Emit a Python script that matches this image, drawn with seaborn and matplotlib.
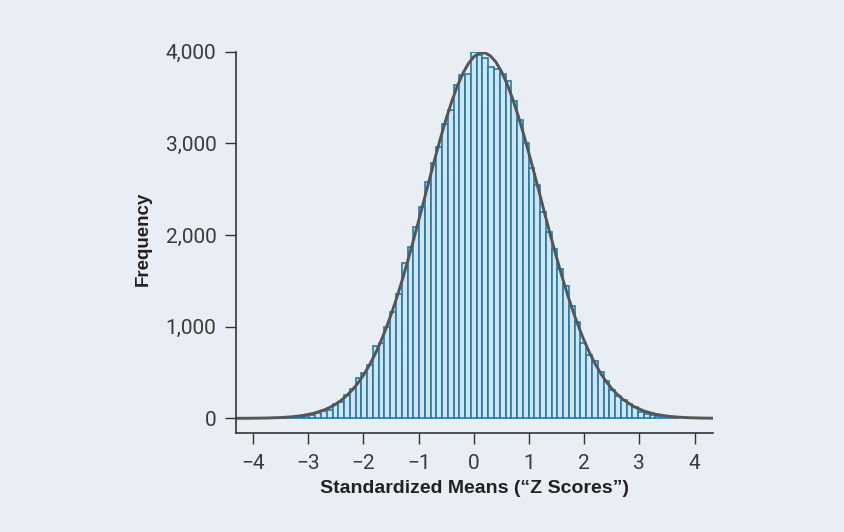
import numpy as np
import pandas as pd
import matplotlib
matplotlib.use("Agg")
import matplotlib.pyplot as plt
import seaborn as sns

# ---------------- data ----------------
bin_width = 0.1045                      # width of one histogram bin (z units)
bin_index = list(range(-33, 36))        # bin number; bin 0 is centred on z = 0
counts = [2, 4, 7, 12, 20, 33, 55, 76, 91, 156,
          176, 252, 316, 436, 491, 581, 788, 818, 999, 1163,
          1356, 1690, 1865, 2090, 2300, 2580, 2785, 2955, 3208, 3362,
          3640, 3750, 3760,
          3995,
          3958, 3935, 3835, 3810, 3755, 3680, 3460, 3255, 3000, 2733,
          2544, 2253, 2035, 1843, 1625, 1443, 1225, 1050, 818, 686,
          620, 500, 405, 305, 240, 200, 155, 127, 72, 51,
          34, 20, 9, 4, 2]

# fitted normal curve
curve_z = [-4.5, -4.3, -4.1, -3.9, -3.7, -3.5, -3.3, -3.1, -2.9, -2.7,
           -2.6, -2.5, -2.4, -2.3, -2.2, -2.1, -2.0, -1.9, -1.8, -1.7,
           -1.6, -1.5, -1.4, -1.3, -1.2, -1.1, -1.0, -0.9, -0.8, -0.7,
           -0.6, -0.5, -0.4, -0.3, -0.2, -0.1, 0.0, 0.1, 0.2, 0.3,
           0.4, 0.5, 0.6, 0.7, 0.8, 0.9, 1.0, 1.1, 1.2, 1.3,
           1.4, 1.5, 1.6, 1.7, 1.8, 1.9, 2.0, 2.1, 2.2, 2.3,
           2.4, 2.5, 2.6, 2.7, 2.9, 3.1, 3.3, 3.5, 3.7, 3.9,
           4.1, 4.3, 4.5]
curve_freq = [0.2, 0.4, 1.0, 2.1, 4.4, 8.6, 16.6, 30.7, 54.9, 94.3,
              122, 156, 198, 250, 312, 385, 471, 572, 687, 818,
              966, 1130, 1310, 1503, 1711, 1929, 2155, 2385, 2616, 2844,
              3063, 3269, 3456, 3622, 3760, 3868, 3944, 3983, 3987, 3954,
              3886, 3784, 3651, 3491, 3308, 3105, 2888, 2662, 2432, 2200,
              1973, 1754, 1544, 1347, 1164, 998, 847, 712, 594, 490,
              401, 325, 261, 208, 128, 76, 43.7, 24.1, 12.9, 6.6,
              3.3, 1.6, 0.7]

x_ticks = [-4, -3, -2, -1, 0, 1, 2, 3, 4]
x_tick_labels = ["\u22124", "\u22123", "\u22122", "\u22121", "0", "1", "2", "3", "4"]
y_ticks = [0, 1000, 2000, 3000, 4000]
y_tick_labels = ["0", "1,000", "2,000", "3,000", "4,000"]
x_label = "Standardized Means (\u201cZ Scores\u201d)"
y_label = "Frequency"

# ---------------- style ----------------
BG = "#e9eef5"
BAR_FACE = "#d4e4ef"
BAR_EDGE = "#1a7db2"
CURVE = "#555555"
INK = "#333333"

sns.set_theme(style="ticks")
plt.rcParams["font.family"] = ["Roboto", "DejaVu Sans"]

bin_centers = np.array(bin_index) * bin_width
df = pd.DataFrame({"z": bin_centers, "count": counts})
curve = pd.DataFrame({"z": curve_z, "freq": curve_freq})

fig = plt.figure(figsize=(8.45, 5.32), dpi=100, facecolor=BG)
ax = fig.add_axes([236 / 845, 1 - 433 / 532, 477 / 845, (433 - 51.6) / 532])
ax.set_facecolor(BG)

sns.histplot(data=df, x="z", weights="count", binwidth=bin_width,
             binrange=(bin_centers[0] - bin_width / 2, bin_centers[-1] + bin_width / 2),
             stat="count", facecolor=BAR_FACE, edgecolor=BAR_EDGE,
             linewidth=1.2, alpha=1, ax=ax)

sns.lineplot(data=curve, x="z", y="freq", color=CURVE, linewidth=2.1, ax=ax)

ax.set_xlim(-4.31, 4.335)
ax.set_ylim(-160, 4000)

ax.set_xticks(x_ticks)
ax.set_xticklabels(x_tick_labels)
ax.set_yticks(y_ticks)
ax.set_yticklabels(y_tick_labels)

ax.tick_params(axis="both", direction="out", length=8, width=1.0, colors=INK,
               labelsize=15, labelcolor="#3a3a3a")
ax.tick_params(axis="y", pad=6)
ax.tick_params(axis="x", pad=7)

for side in ["top", "right"]:
    ax.spines[side].set_visible(False)
for side in ["left", "bottom"]:
    ax.spines[side].set_color(INK)
    ax.spines[side].set_linewidth(1.2)

label_font = dict(family=["Liberation Sans Narrow", "Liberation Sans", "DejaVu Sans"],
                  fontweight="bold", color="#222222")
ax.set_xlabel(x_label, fontsize=14, **label_font)
ax.set_ylabel(y_label, fontsize=13.5, **label_font)
ax.xaxis.set_label_coords(0.5, -0.122)
ax.yaxis.set_label_coords(-0.176, 0.509)

fig.savefig("out.png", dpi=100, facecolor=BG)
